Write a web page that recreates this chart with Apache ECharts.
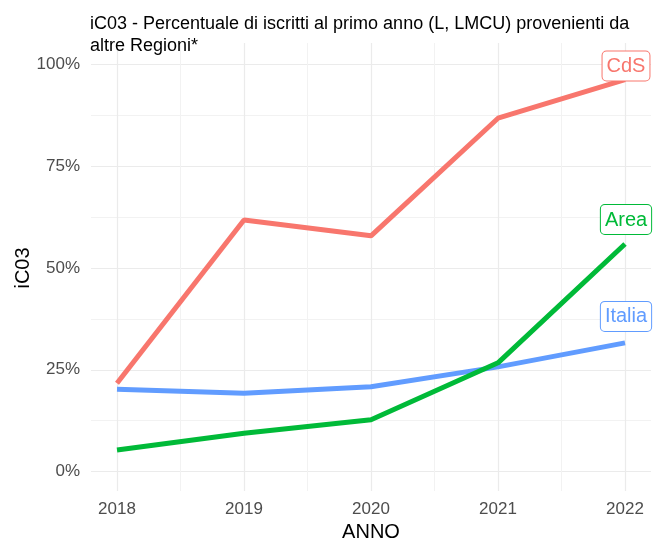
<!DOCTYPE html>
<html>
<head>
<meta charset="utf-8">
<script src="https://cdn.jsdelivr.net/npm/echarts@6/dist/echarts.min.js"></script>
<style>
  html, body { margin: 0; padding: 0; background: #fff; }
  #main { width: 654px; height: 540px; }
</style>
</head>
<body>
<div id="main"></div>
<script>
// dati
var anni = [2018, 2019, 2020, 2021, 2022];
var cds = [21.7, 61.8, 57.9, 86.8, 96.3];
var area = [5.3, 9.4, 12.7, 26.7, 55.9];
var italia = [20.2, 19.2, 20.8, 25.7, 31.6];
var yTicks = [0, 25, 50, 75, 100];

var font = 'Liberation Sans, Arial, sans-serif';

function pts(vals) {
  return anni.map(function (a, i) { return [a, vals[i]]; });
}

function serie(nome, vals, colore, offY) {
  var d = pts(vals);
  var last = d.length - 1;
  d[last] = {
    value: d[last],
    label: {
      show: true,
      formatter: nome,
      position: 'top',
      distance: 0,
      offset: [1, offY],
      color: colore,
      fontFamily: font,
      fontSize: 20,
      lineHeight: 22,
      backgroundColor: '#fff',
      borderColor: colore,
      borderWidth: 1,
      borderRadius: 4,
      padding: [4, 4, 3, 4]
    }
  };
  return {
    name: nome,
    type: 'line',
    xAxisIndex: 2,
    yAxisIndex: 2,
    data: d,
    showSymbol: true,
    symbol: 'circle',
    symbolSize: 0,
    lineStyle: { color: colore, width: 5 },
    itemStyle: { color: colore },
    z: 5
  };
}

var chart = echarts.init(document.getElementById('main'));
chart.setOption({
  animation: false,
  backgroundColor: '#fff',
  title: {
    text: 'iC03 - Percentuale di iscritti al primo anno (L, LMCU) provenienti da\naltre Regioni*',
    left: 85,
    top: 8,
    textStyle: { fontFamily: font, fontSize: 18, fontWeight: 'normal', color: '#000', lineHeight: 22 }
  },
  grid: [
    // griglia orizzontale + etichette asse y
    { left: 91, right: 3, top: 64.5, bottom: 68.5, outerBoundsMode: 'none' },
    // griglia verticale + etichette asse x
    { left: 117, right: 29, top: 43, bottom: 49, outerBoundsMode: 'none' },
    // dati
    { left: 117, right: 29, top: 64.5, bottom: 68.5, outerBoundsMode: 'none' }
  ],
  xAxis: [
    { gridIndex: 0, type: 'value', min: 0, max: 1, show: false },
    {
      gridIndex: 1, type: 'value', min: 2018, max: 2022, interval: 1,
      axisLine: { show: false }, axisTick: { show: false },
      axisLabel: {
        color: '#4d4d4d', fontFamily: font, fontSize: 17, margin: 10,
        formatter: function (v) { return String(v); }
      },
      splitLine: { show: true, lineStyle: { color: '#ebebeb', width: 1.2 } },
      minorTick: { show: false, splitNumber: 2 },
      minorSplitLine: { show: true, lineStyle: { color: '#f2f2f2', width: 1 } },
      name: 'ANNO', nameLocation: 'middle', nameGap: 30,
      nameTextStyle: { color: '#000', fontFamily: font, fontSize: 20 }
    },
    { gridIndex: 2, type: 'value', min: 2018, max: 2022, show: false }
  ],
  yAxis: [
    {
      gridIndex: 0, type: 'value', min: 0, max: 100, interval: 25,
      axisLine: { show: false }, axisTick: { show: false },
      axisLabel: {
        color: '#4d4d4d', fontFamily: font, fontSize: 17, margin: 11,
        formatter: function (v) { return yTicks.indexOf(v) >= 0 ? v + '%' : ''; }
      },
      splitLine: { show: true, lineStyle: { color: '#ebebeb', width: 1.2 } },
      minorTick: { show: false, splitNumber: 2 },
      minorSplitLine: { show: true, lineStyle: { color: '#f2f2f2', width: 1 } },
      name: 'iC03', nameLocation: 'middle', nameGap: 58, nameMoveOverlap: false,
      nameTextStyle: { color: '#000', fontFamily: font, fontSize: 20 }
    },
    { gridIndex: 1, type: 'value', min: 0, max: 1, show: false },
    { gridIndex: 2, type: 'value', min: 0, max: 100, show: false }
  ],
  series: [
    serie('Italia', italia, '#619CFF', -12),
    serie('Area', area, '#00BA38', -10),
    serie('CdS', cds, '#F8766D', 1)
  ]
});
</script>
</body>
</html>
